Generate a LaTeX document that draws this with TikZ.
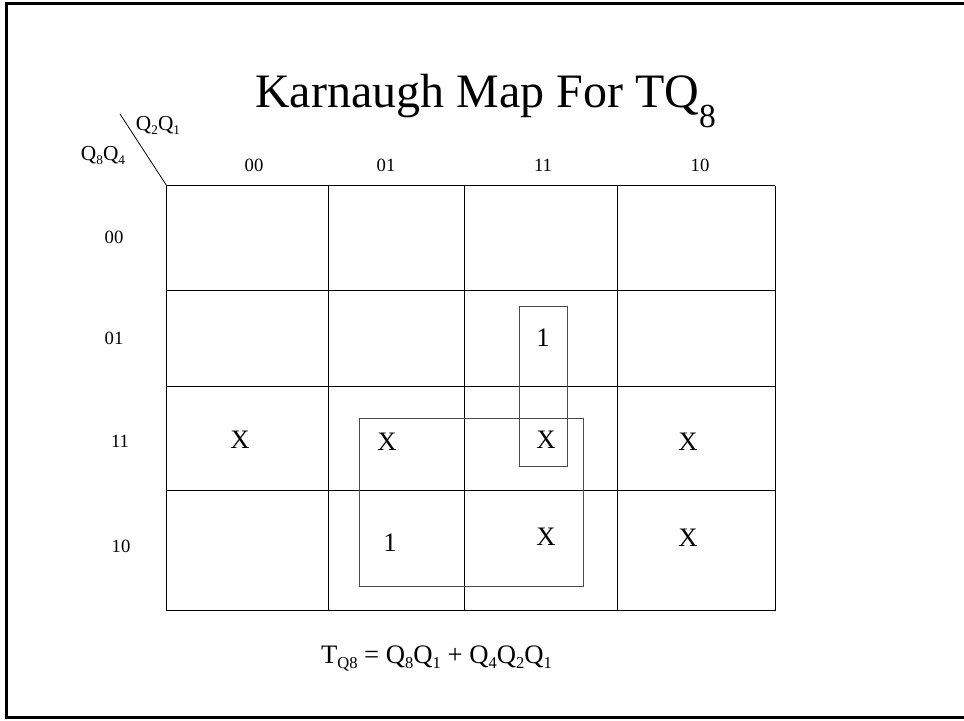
\documentclass[tikz,border=0pt]{standalone}
\usepackage{fontspec}
\setmainfont{Liberation Serif}
\newcommand{\lowsub}[1]{\raisebox{-0.22em}{\scalebox{0.62}{#1}}}
\newcommand{\deepsub}[1]{\raisebox{-0.42em}{\scalebox{0.7}{#1}}}
\begin{document}
\begin{tikzpicture}[x=0.75pt, y=-0.75pt]
    \tikzset{cell text/.style={font=\fontsize{20}{24}\selectfont, inner sep=0pt},
             head text/.style={font=\fontsize{14}{16}\selectfont, inner sep=0pt},
             var text/.style={font=\fontsize{16}{18}\selectfont, inner sep=0pt},
             loop box/.style={draw=black!70, line width=0.7pt},
             grid line/.style={line width=0.6pt}}
    \clip (0,0) rectangle (964,721);

    % Outer frame (runs off the right side)
    \draw[line width=1.6pt] (6.5,3.5) rectangle (990,717.5);

    % Title
    \node[font=\fontsize{36}{40}\selectfont, anchor=base, inner sep=0pt] (title)
        at (485.5,107) {Karnaugh Map For TQ\deepsub{8}};

    % Map grid
    \foreach \y in {185.7, 290, 386.7, 490.7, 610.7}
        \draw[grid line] (166.7,\y) -- (775,\y);
    \foreach \x in {166.7, 328, 464, 617, 775}
        \draw[grid line] (\x,185.7) -- (\x,610.7);

    % Corner with variable names
    \coordinate (corner) at (166.7,185.7);
    \coordinate (slash) at (120,114);
    \draw[line width=0.6pt] (slash) -- (corner);
    \node[var text, anchor=base] (q21) at (158,130) {Q\lowsub{2}Q\lowsub{1}};
    \node[var text, anchor=base] (q84) at (103,160) {Q\lowsub{8}Q\lowsub{4}};

    % Column labels
    \node[head text] (c00) at (254,165) {00};
    \node[head text] (c01) at (386,165) {01};
    \node[head text] (c11) at (543,165) {11};
    \node[head text] (c10) at (700,165) {10};

    % Row labels
    \node[head text] (r00) at (114,237) {00};
    \node[head text] (r01) at (114,338) {01};
    \node[head text] (r11) at (120,441) {11};
    \node[head text] (r10) at (121,546) {10};

    % Cell entries
    \node[cell text] (m7)  at (543,338) {1};
    \node[cell text] (m12) at (240,440) {X};
    \node[cell text] (m13) at (387,442) {X};
    \node[cell text] (m15) at (546,440) {X};
    \node[cell text] (m14) at (688,442) {X};
    \node[cell text] (m9)  at (390,543) {1};
    \node[cell text] (m11) at (546,537) {X};
    \node[cell text] (m10) at (688,538) {X};

    % Groupings
    \draw[loop box] (519,306) rectangle (567,466);
    \draw[loop box] (359,418) rectangle (583,586);

    % Result
    \node[font=\fontsize{20}{24}\selectfont, anchor=base, inner sep=0pt] (result)
        at (436.5,663) {T\lowsub{Q8} = Q\lowsub{8}Q\lowsub{1} + Q\lowsub{4}Q\lowsub{2}Q\lowsub{1}};
\end{tikzpicture}
\end{document}
